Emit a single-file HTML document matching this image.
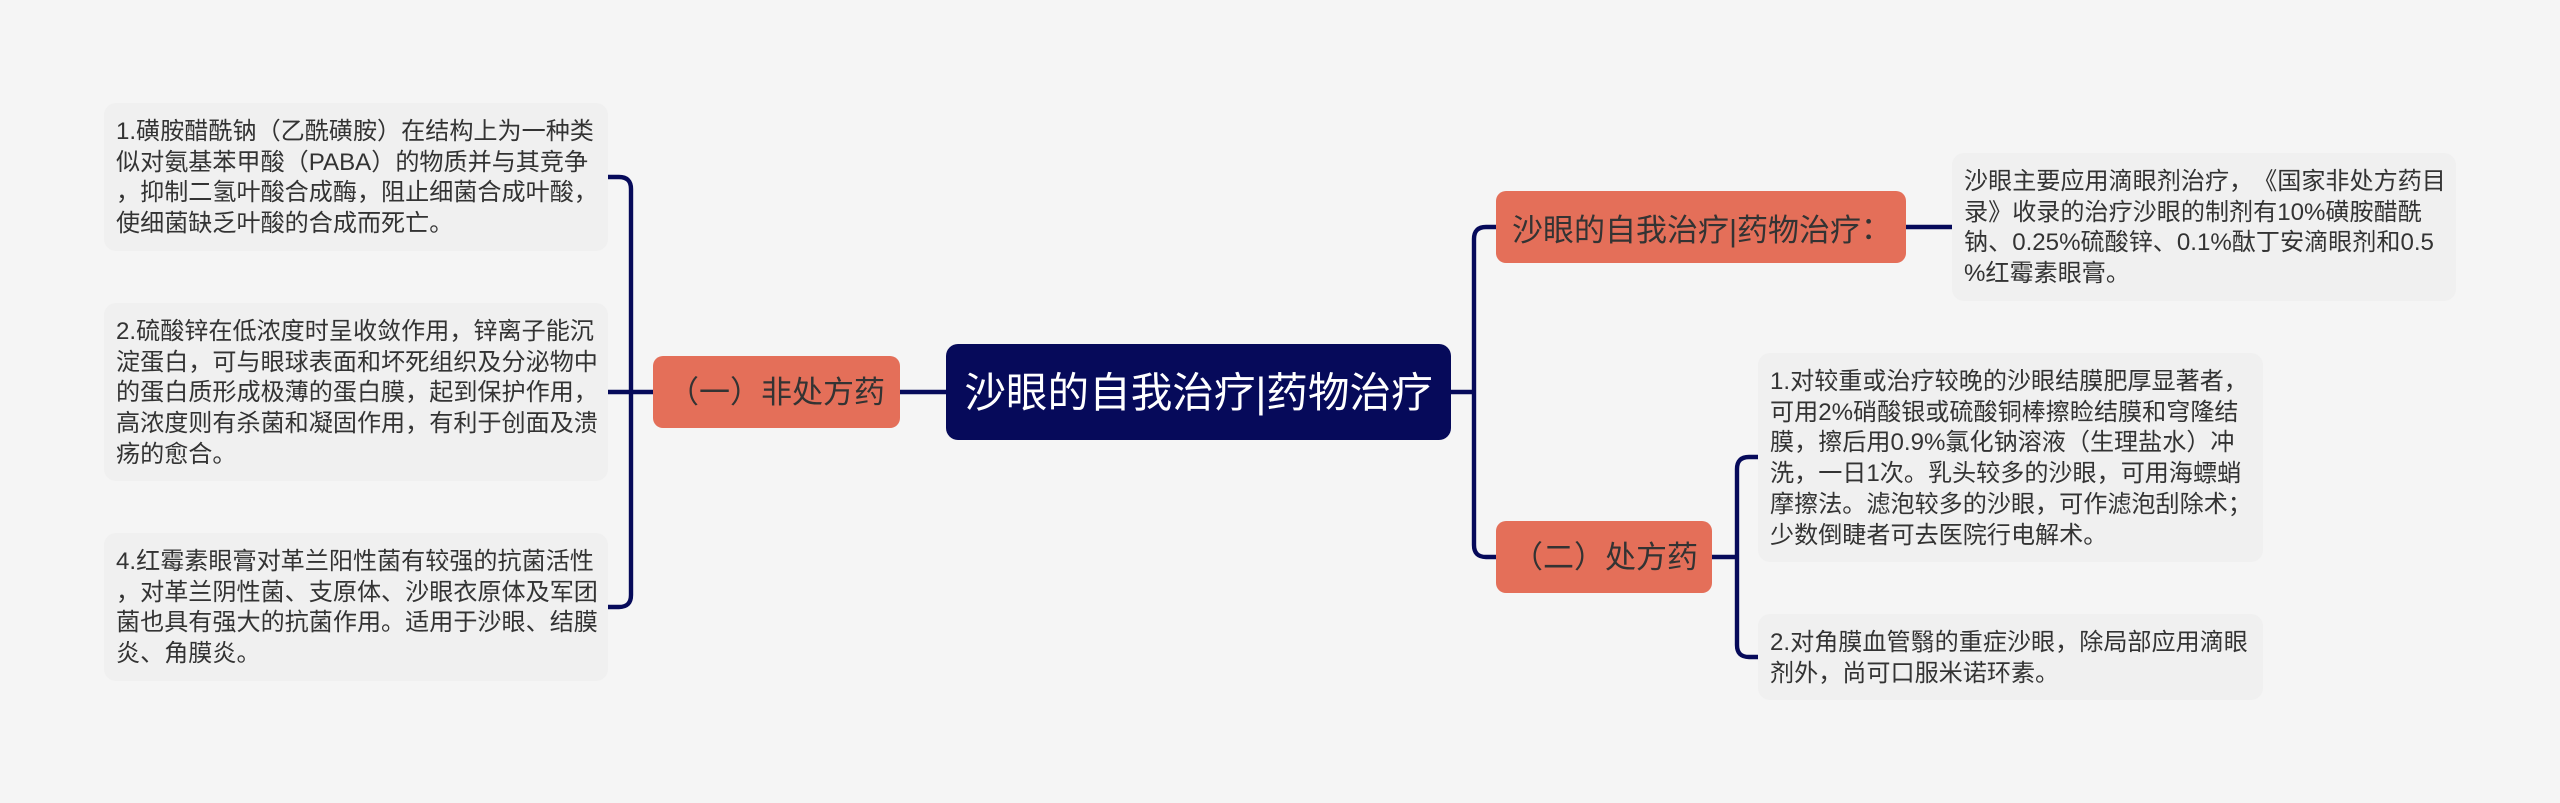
<!DOCTYPE html>
<html lang="zh">
<head>
<meta charset="utf-8">
<style>
html,body{margin:0;padding:0;width:2560px;height:803px;overflow:hidden;background:#f5f5f5}
body{position:relative;font-family:"Liberation Sans","Noto Sans CJK SC",sans-serif;color:#333;text-spacing-trim:space-all}
svg{position:absolute;left:0;top:0}
.card{position:absolute;background:#f0f0f0;border-radius:12px;box-sizing:border-box;padding:14px 12px 0;font-size:24.1px;line-height:30.7px;white-space:nowrap;color:#333}
.node{position:absolute;background:#e46f59;border-radius:10px;font-size:31px;line-height:74px;height:72px;box-sizing:border-box;white-space:nowrap;color:#333}
.root{position:absolute;left:946px;top:344px;width:505px;height:96px;background:#060a5a;border-radius:12px;color:#fff;font-size:41.6px;line-height:98px;text-align:center;white-space:nowrap}
.c{font-family:"Noto Sans CJK TC",sans-serif;margin-left:-8px}
</style>
</head>
<body>
<svg width="2560" height="803" viewBox="0 0 2560 803" fill="none" stroke="#060a5a" stroke-width="4.4">
<path d="M608 177H619Q631 177 631 189V595Q631 607 619 607H608"/>
<path d="M608 392H653"/>
<path d="M900 392H946"/>
<path d="M1451 392H1474"/>
<path d="M1496 227H1486Q1474 227 1474 239V545Q1474 557 1486 557H1496"/>
<path d="M1906 227H1952"/>
<path d="M1712 557H1737"/>
<path d="M1758 457H1749Q1737 457 1737 469V645Q1737 657 1749 657H1758"/>
</svg>

<div class="card" style="left:104px;top:103px;width:504px;height:148px">1.磺胺醋酰钠（乙酰磺胺）在结构上为一种类<br>似对氨基苯甲酸（PABA）的物质并与其竞争<br>，抑制二氢叶酸合成酶，阻止细菌合成叶酸，<br>使细菌缺乏叶酸的合成而死亡。</div>
<div class="card" style="left:104px;top:303px;width:504px;height:178px">2.硫酸锌在低浓度时呈收敛作用，锌离子能沉<br>淀蛋白，可与眼球表面和坏死组织及分泌物中<br>的蛋白质形成极薄的蛋白膜，起到保护作用，<br>高浓度则有杀菌和凝固作用，有利于创面及溃<br>疡的愈合。</div>
<div class="card" style="left:104px;top:533px;width:504px;height:148px">4.红霉素眼膏对革兰阳性菌有较强的抗菌活性<br>，对革兰阴性菌、支原体、沙眼衣原体及军团<br>菌也具有强大的抗菌作用。适用于沙眼、结膜<br>炎、角膜炎。</div>

<div class="node" style="left:653px;top:356px;width:247px;padding-left:15px">（一）非处方药</div>
<div class="root">沙眼的自我治疗|药物治疗</div>
<div class="node" style="left:1496px;top:191px;width:410px;padding-left:16px">沙眼的自我治疗|药物治疗<span class="c" lang="zh-Hant">：</span></div>
<div class="node" style="left:1496px;top:521px;width:216px;padding-left:16px">（二）处方药</div>

<div class="card" style="left:1952px;top:153px;width:504px;height:148px">沙眼主要应用滴眼剂治疗，《国家非处方药目<br>录》收录的治疗沙眼的制剂有10%磺胺醋酰<br>钠、0.25%硫酸锌、0.1%酞丁安滴眼剂和0.5<br>%红霉素眼膏。</div>
<div class="card" style="left:1758px;top:353px;width:505px;height:209px">1.对较重或治疗较晚的沙眼结膜肥厚显著者，<br>可用2%硝酸银或硫酸铜棒擦睑结膜和穹隆结<br>膜，擦后用0.9%氯化钠溶液（生理盐水）冲<br>洗，一日1次。乳头较多的沙眼，可用海螵蛸<br>摩擦法。滤泡较多的沙眼，可作滤泡刮除术；<br>少数倒睫者可去医院行电解术。</div>
<div class="card" style="left:1758px;top:614px;width:505px;height:86px">2.对角膜血管翳的重症沙眼，除局部应用滴眼<br>剂外，尚可口服米诺环素。</div>
</body>
</html>
